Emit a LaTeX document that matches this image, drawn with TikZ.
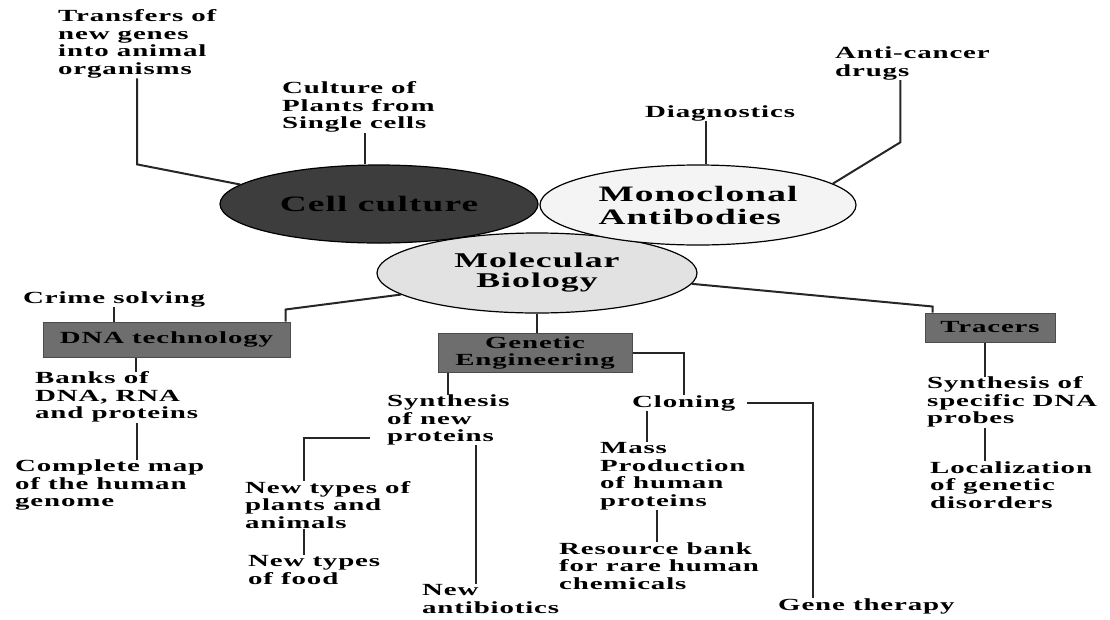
\documentclass[tikz,border=0pt]{standalone}
\usepackage{fontspec}
\usetikzlibrary{shapes.geometric}
\newfontfamily\lblfont{Liberation Serif}[FakeStretch=1.7,LetterSpace=5]
\definecolor{boxgray}{HTML}{6E6E6E}
\definecolor{cellgray}{HTML}{3D3D3D}
\definecolor{molgray}{HTML}{E2E2E2}
\definecolor{monogray}{HTML}{F4F4F4}
\begin{document}
\begin{tikzpicture}[x=1pt, y=-1pt,
    txt/.style={font=\lblfont\bfseries\fontsize{17}{17.5}\selectfont, align=left, anchor=west, inner sep=0pt},
    bub/.style={ellipse, draw=black, line width=1.2pt, inner sep=0pt, align=left, font=\lblfont\bfseries\fontsize{22}{23}\selectfont},
    tagbox/.style={draw=black!70, fill=boxgray, line width=1pt, inner sep=0pt, align=center, font=\lblfont\bfseries\fontsize{17}{17}\selectfont},
    link/.style={draw=black!85, line width=2pt}]
  \useasboundingbox (0,0) rectangle (1110,619);

  % the three hubs
  \node[bub, fill=molgray, minimum width=320, minimum height=80, align=center, font=\lblfont\bfseries\fontsize{21}{20}\selectfont] (molec) at (537,273) {Molecular\\Biology};
  \node[bub, fill=cellgray, minimum width=318, minimum height=78] (cell) at (379,204) {Cell culture};
  \node[bub, fill=monogray, minimum width=316, minimum height=80] (mono) at (698,205) {Monoclonal\\Antibodies};

  % top
  \node[txt] (trans) at (58,44) {Transfers of\\new genes\\into animal\\organisms};
  \node[txt] (cultr) at (282,107) {Culture of\\Plants from\\Single cells};
  \node[txt] (diag) at (645,113) {Diagnostics};
  \node[txt] (anti) at (835,63.5) {Anti-cancer\\drugs};

  % DNA technology
  \node[txt] (crime) at (23,299) {Crime solving};
  \node[tagbox, minimum width=247, minimum height=35] (dna) at (166.5,339.5) {DNA technology};
  \node[txt] (banks) at (35,397) {Banks of\\DNA, RNA\\and proteins};
  \node[txt] (cmap) at (15,485) {Complete map\\of the human\\genome};

  % genetic engineering
  \node[tagbox, minimum width=194, minimum height=39] (ge) at (535,352.5) {Genetic\\Engineering};
  \node[txt] (synth) at (387,420) {Synthesis\\of new\\proteins};
  \node[txt] (plants) at (245,505) {New types of\\plants and\\animals};
  \node[txt] (food) at (248,570) {New types\\of food};
  \node[txt] (antib) at (422,599) {New\\antibiotics};
  \node[txt] (clon) at (632,403) {Cloning};
  \node[txt] (mass) at (600,476) {Mass\\Production\\of human\\proteins};
  \node[txt] (resrc) at (559,566) {Resource bank\\for rare human\\chemicals};
  \node[txt] (genet) at (778,606) {Gene therapy};

  % tracers
  \node[tagbox, minimum width=130, minimum height=29] (trc) at (990,327.5) {Tracers};
  \node[txt] (sprobe) at (927,402) {Synthesis of\\specific DNA\\probes};
  \node[txt] (local) at (930,485) {Localization\\of genetic\\disorders};

  % connectors
  \draw[link] (trans.south) -- (trans.south |- cell.north) -- (cell.172);
  \draw[link] ([xshift=7]cultr.south) -- ([xshift=7]cultr.south |- cell.north);
  \draw[link] ([xshift=-14]diag.south) -- ([xshift=-14]diag.south |- mono.north);
  \draw[link] ([xshift=-12]anti.south) -- ++(0,62) -- (mono.9);
  \draw[link] (molec.189) -- ([xshift=-5,yshift=12]dna.north east) -- ([xshift=-5]dna.north east);
  \draw[link] (crime.south) -- (crime.south |- dna.north);
  \draw[link] ([xshift=-31]dna.south) -- ([xshift=-31]dna.south |- banks.north);
  \draw[link] ([xshift=20]banks.south) -- ([xshift=20]banks.south |- cmap.north);
  \draw[link] (molec.south) -- (molec.south |- ge.north);
  \draw[link] ([xshift=10]ge.south west) -- ([xshift=10]ge.south west |- synth.north);
  \draw[link] (ge.east) -| (clon.north);
  \draw[link] ([xshift=-17,yshift=7]synth.south west) -| ([xshift=-24]plants.north);
  \draw[link] ([xshift=28]synth.south) -- ([xshift=28]synth.south |- antib.north);
  \draw[link] ([xshift=-24]plants.south) -- ([xshift=-24]plants.south |- food.north);
  \draw[link] ([xshift=-37]clon.south) -- ([xshift=-37]clon.south |- mass.north);
  \draw[link] ([xshift=12]clon.east) -| ([xshift=-53]genet.north);
  \draw[link] ([xshift=-16]mass.south) -- ([xshift=-16]mass.south |- resrc.north);
  \draw[link] (molec.-4) -- ([xshift=8,yshift=6]trc.north west) -- ([xshift=8]trc.north west);
  \draw[link] ([xshift=-5]trc.south) -- ([xshift=-5]trc.south |- sprobe.north);
  \draw[link] ([xshift=-5]trc.south |- sprobe.south) -- ([xshift=-5]trc.south |- local.north);
\end{tikzpicture}
\end{document}
